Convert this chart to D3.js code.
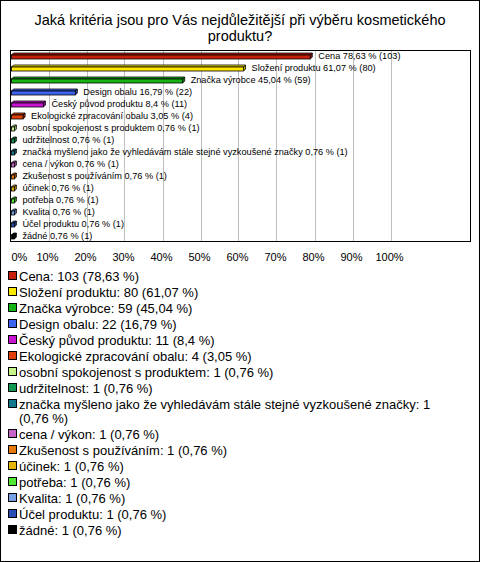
<!DOCTYPE html>
<html>
<head>
<meta charset="utf-8">
<script src="https://cdn.jsdelivr.net/npm/d3@7"></script>
<style>
  body { margin: 0; background: #fff; }
  svg { display: block; font-family: "Liberation Sans", Arial, sans-serif; }
</style>
</head>
<body>
<div class="chart"></div>
<script>
var titleLines = ['Jaká kritéria jsou pro Vás nejdůležitější při výběru kosmetického', 'produktu?'];

var categories = ['Cena', 'Složení produktu', 'Značka výrobce', 'Design obalu', 'Český původ produktu',
  'Ekologické zpracování obalu', 'osobní spokojenost s produktem', 'udržitelnost',
  'značka myšleno jako že vyhledávám stále stejné vyzkoušené značky', 'cena / výkon',
  'Zkušenost s používáním', 'účinek', 'potřeba', 'Kvalita', 'Účel produktu', 'žádné'];
var counts = [103, 80, 59, 22, 11, 4, 1, 1, 1, 1, 1, 1, 1, 1, 1, 1];
var percents = [78.63, 61.07, 45.04, 16.79, 8.4, 3.05, 0.76, 0.76, 0.76, 0.76, 0.76, 0.76, 0.76, 0.76, 0.76, 0.76];
var colors = ['#c4200c', '#ffe800', '#14b414', '#3c64f0', '#c814d2', '#e0400a', '#c8f58c', '#129650',
  '#14788c', '#c864c8', '#e6780a', '#e6b40a', '#50e632', '#78a0e6', '#2850b4', '#000000'];
var tickValues = [0, 10, 20, 30, 40, 50, 60, 70, 80, 90, 100];

var W = 480, H = 562;
var plot = {left: 10, right: 470, top: 50, bottom: 241};

var x = d3.scaleLinear().domain([0, 100]).range([11.5, 391.5]);
var y = d3.scaleBand().domain(categories).range([50, 242]);

function fmt(v) { return String(v).replace('.', ','); }

var svg = d3.select('.chart').append('svg')
  .attr('width', W)
  .attr('height', H);

svg.append('rect')
  .attr('x', 0.5).attr('y', 0.5)
  .attr('width', W - 1).attr('height', H - 1)
  .attr('fill', '#fff').attr('stroke', '#000');

svg.selectAll('.title')
  .data(titleLines)
  .enter().append('text')
    .attr('class', 'title')
    .attr('x', W / 2)
    .attr('y', function(d, i) { return 25 + i * 16; })
    .attr('text-anchor', 'middle')
    .style('font-size', '14.5px')
    .text(function(d) { return d; });

// plot box + grid
svg.append('rect')
  .attr('x', plot.left + 0.5).attr('y', plot.top + 0.5)
  .attr('width', plot.right - plot.left).attr('height', plot.bottom - plot.top)
  .attr('fill', '#fff').attr('stroke', '#000');

svg.selectAll('.grid')
  .data(tickValues.slice(1))
  .enter().append('line')
    .attr('class', 'grid')
    .attr('x1', function(d) { return Math.round(x(d)) - 0.5; })
    .attr('x2', function(d) { return Math.round(x(d)) - 0.5; })
    .attr('y1', plot.top + 1)
    .attr('y2', plot.bottom)
    .attr('stroke', '#c0c0c0');

svg.selectAll('.tick')
  .data(tickValues)
  .enter().append('text')
    .attr('class', 'tick')
    .attr('x', function(d) { return d === 0 ? x(d) : x(d) - 2; })
    .attr('y', 257)
    .attr('dy', '0.35em')
    .attr('text-anchor', function(d) { return d === 0 ? 'start' : 'middle'; })
    .style('font-size', '11px')
    .text(function(d) { return d + '%'; });

// 3d bars
var bh = 4, dep = 2;
var rows = svg.selectAll('.bar')
  .data(categories)
  .enter().append('g')
    .attr('class', 'bar');

function geo(d, i) {
  var c = y(d) + y.bandwidth() / 2;
  return {x0: x(0), x1: x(percents[i]), y0: c - 1, y1: c - 1 + bh};
}

rows.append('polygon')
  .attr('points', function(d, i) {
    var g = geo(d, i);
    return [[g.x0, g.y0], [g.x1, g.y0], [g.x1 + dep, g.y0 - dep], [g.x0 + dep, g.y0 - dep]].join(' ');
  })
  .attr('fill', function(d, i) { return colors[i]; })
  .attr('stroke', '#000').attr('stroke-width', 0.8);

rows.append('polygon')
  .attr('points', function(d, i) {
    var g = geo(d, i);
    return [[g.x1, g.y0], [g.x1 + dep, g.y0 - dep], [g.x1 + dep, g.y1 - dep], [g.x1, g.y1]].join(' ');
  })
  .attr('fill', function(d, i) { return d3.color(colors[i]).darker(0.7); })
  .attr('stroke', '#000').attr('stroke-width', 0.8);

rows.append('rect')
  .attr('x', function(d, i) { return geo(d, i).x0; })
  .attr('y', function(d, i) { return geo(d, i).y0; })
  .attr('width', function(d, i) { return x(percents[i]) - x(0); })
  .attr('height', bh)
  .attr('fill', function(d, i) { return colors[i]; })
  .attr('stroke', '#000').attr('stroke-width', 0.8);

rows.append('text')
  .attr('x', function(d, i) { return x(percents[i]) + 8; })
  .attr('y', function(d) { return y(d) + y.bandwidth() / 2; })
  .attr('dy', '0.35em')
  .style('font-size', '9.2px')
  .text(function(d, i) { return d + ' ' + fmt(percents[i]) + ' % (' + counts[i] + ')'; });

// legend, wrapped by words ("(0,76 %)" kept together)
var ly = 276;
var maxW = 448;
categories.forEach(function(d, i) {
  var g = svg.append('g').attr('class', 'legend');
  g.append('rect')
    .attr('x', 8.5).attr('y', ly - 4.5)
    .attr('width', 8).attr('height', 8)
    .attr('fill', colors[i]).attr('stroke', '#000');
  var label = d + ': ' + counts[i] + ' (' + fmt(percents[i]) + '\u00a0%)';
  var t = g.append('text')
    .attr('x', 19).attr('y', ly)
    .style('font-size', '13px');
  var words = label.split(' ');
  var line = [];
  var lineY = ly;
  var tspan = t.append('tspan').attr('x', 19).attr('y', lineY).attr('dy', '0.35em');
  words.forEach(function(w) {
    line.push(w);
    tspan.text(line.join(' '));
    if (tspan.node().getComputedTextLength() > maxW && line.length > 1) {
      line.pop();
      tspan.text(line.join(' '));
      line = [w];
      lineY += 14;
      tspan = t.append('tspan').attr('x', 19).attr('y', lineY).attr('dy', '0.35em').text(w);
    }
  });
  ly = lineY + 16;
});
</script>
</body>
</html>
